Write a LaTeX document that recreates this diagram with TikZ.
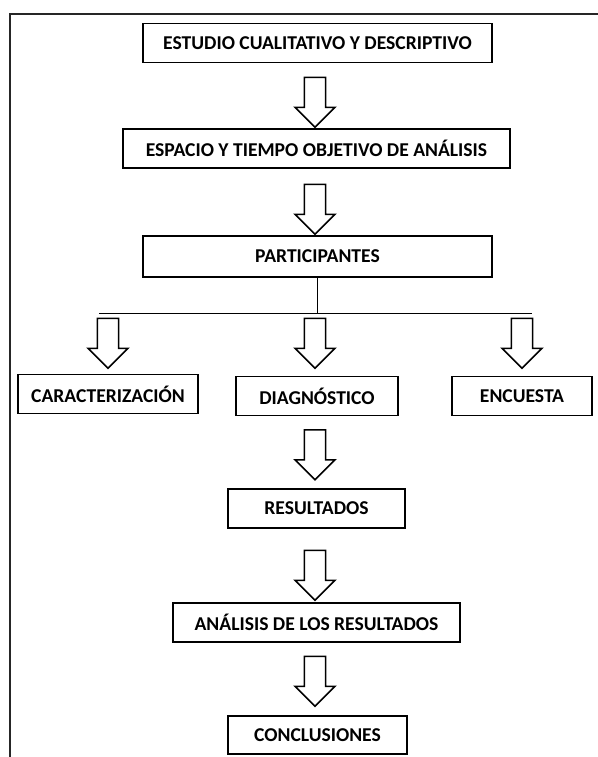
\documentclass[tikz,border=0pt]{standalone}
\usepackage{fontspec}
\setmainfont{Carlito}
\usetikzlibrary{shapes.arrows}
\tikzset{
stage/.style={shape=rectangle, draw, line width=0.95pt, minimum height=19.5pt, inner sep=0, font=\fontsize{9.8}{11}\selectfont\bfseries}, hollow/.style={single arrow, draw, line width=0.8pt, rotate=-90, minimum height=25pt, inner sep=4.9pt, single arrow head extend=4.7pt, single arrow tip angle=90}, branch/.style={line width=0.45pt}}
\begin{document}
\begin{tikzpicture}[x=0.5pt, y=-0.5pt]
\useasboundingbox (0,0) rectangle (598,757);
\draw [line width=1pt, black!85] (10,757) -- (10,14) -- (598,14);

\node [stage, minimum width=174.5pt] at (317.5, 43) (est) {ESTUDIO CUALITATIVO Y DESCRIPTIVO};
\node [stage, minimum width=193.5pt] at (316.5, 148.5) (esp) {ESPACIO Y TIEMPO OBJETIVO DE ANÁLISIS};
\node [stage, minimum width=174.5pt, minimum height=20.5pt] at (317.5, 256.5) (part) {PARTICIPANTES};
\node [hollow] at (315, 97) (a-1) {};
\node [hollow] at (315, 204) (a-2) {};

% three branches
\coordinate (bl) at (99, 313);
\coordinate (br) at (532, 313);
\draw [branch] (part.south) -- (part.south |- bl);
\draw [branch] (bl) -- (br);
\foreach \x [count=\j] in {108, 315, 522}{
      \node [hollow] at (\x, 338) (b-\j) {};
}
\node [stage, minimum width=90pt] at (108, 394) (car) {CARACTERIZACIÓN};
\node [stage, minimum width=81pt] at (317, 396) (diag) {DIAGNÓSTICO};
\node [stage, minimum width=70pt] at (522, 396) (enc) {ENCUESTA};

\node [hollow] at (315, 449.5) (a-3) {};
\node [stage, minimum width=88.5pt] at (316.5, 508.5) (res) {RESULTADOS};
\node [hollow] at (315, 570) (a-4) {};
\node [stage, minimum width=143.5pt] at (316.5, 622.5) (ana) {ANÁLISIS DE LOS RESULTADOS};
\node [hollow] at (315, 676) (a-5) {};
\node [stage, minimum width=89.5pt, minimum height=19pt] at (317.5, 735) (con) {CONCLUSIONES};
\end{tikzpicture}
\end{document}
